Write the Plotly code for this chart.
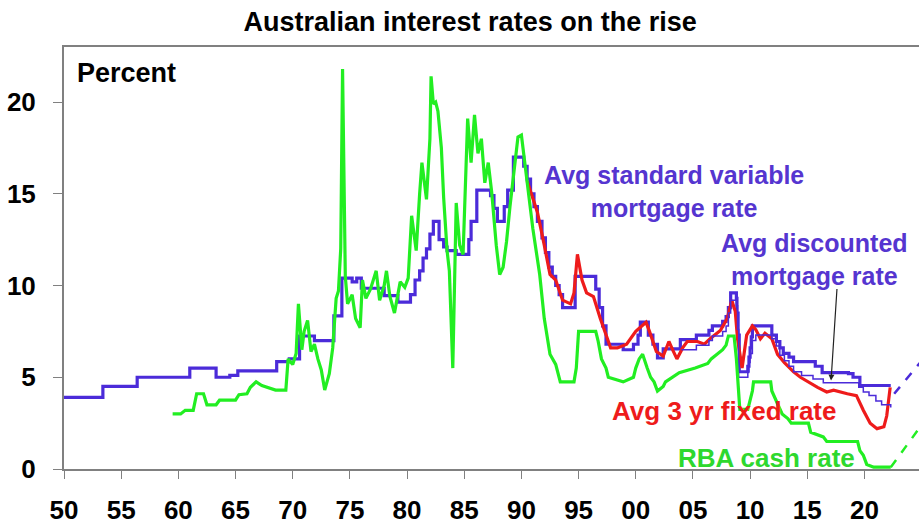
import plotly.graph_objects as go

# ---- Data (percent) ----
# Average standard variable mortgage rate (step series)
svr_years = [1950.0, 1953.4, 1956.4, 1961.0, 1963.3, 1964.5, 1965.2, 1968.6, 1969.7, 1970.6,
             1971.9, 1973.6, 1974.3, 1975.2, 1975.6, 1976.0, 1978.0, 1979.2, 1980.3, 1980.7,
             1981.1, 1981.4, 1981.7, 1982.0, 1982.3, 1982.8, 1983.2, 1983.5, 1984.3, 1985.4,
             1985.6, 1986.1, 1987.3, 1987.6, 1987.9, 1988.5, 1988.8, 1989.3, 1990.2, 1990.5,
             1990.8, 1991.1, 1991.4, 1991.8, 1992.1, 1992.4, 1992.7, 1993.0, 1993.3, 1993.6,
             1994.7, 1996.5, 1996.8, 1997.1, 1997.4, 1998.9, 1999.8, 2000.2, 2000.4, 2001.1,
             2001.5, 2001.9, 2002.4, 2003.9, 2005.3, 2006.4, 2006.7, 2007.6, 2007.9, 2008.1,
             2008.3, 2008.8, 2008.85, 2008.95, 2009.05, 2009.8, 2009.9, 2010.0, 2010.1, 2010.2,
             2011.9, 2012.3, 2012.6, 2012.9, 2013.4, 2013.8, 2015.7, 2016.3, 2018.6, 2019.0,
             2019.6, 2022.3]
svr_rate = [3.9, 4.5, 5.0, 5.5, 5.0, 5.1, 5.35, 5.85, 6.0, 7.25,
            7.0, 8.35, 10.4, 10.2, 10.4, 9.85, 9.45, 9.1, 9.5, 10.3,
            10.8, 11.5, 12.0, 12.8, 13.5, 12.5, 12.1, 11.9, 11.7, 12.5,
            13.5, 15.2, 14.9, 14.2, 13.5, 14.3, 15.2, 17.0, 16.5, 15.8,
            15.0, 14.3, 13.5, 12.6, 11.8, 11.0, 10.5, 10.0, 9.5, 8.8,
            10.5, 9.8, 8.8, 7.8, 6.8, 6.5, 6.8, 7.3, 8.0, 7.3,
            6.8, 6.05, 6.55, 7.05, 7.3, 7.55, 7.8, 8.05, 8.3, 8.8,
            9.6, 9.3, 8.5, 7.3, 5.3, 5.6, 6.1, 6.6, 7.2, 7.8,
            7.3, 6.95, 6.6, 6.3, 6.1, 5.85, 5.6, 5.25, 5.2, 5.0,
            4.55, 4.55]

# Average discounted variable mortgage rate
disc_years = [2004.0, 2005.3, 2006.4, 2006.7, 2007.6, 2007.9, 2008.1, 2008.3, 2008.8, 2008.9,
              2009.0, 2009.8, 2009.9, 2010.0, 2010.2, 2010.5, 2011.9, 2012.3, 2012.6, 2013.0,
              2013.4, 2013.8, 2014.5, 2015.5, 2016.4, 2019.5, 2019.9, 2020.4, 2021.0, 2021.5,
              2022.3]
disc_rate = [6.5, 6.75, 7.0, 7.25, 7.5, 7.8, 8.5, 9.2, 8.9, 7.6,
             5.0, 5.3, 5.8, 6.3, 7.0, 7.3, 7.1, 6.7, 6.2, 5.9,
             5.6, 5.3, 5.1, 4.9, 4.7, 4.45, 4.2, 4.0, 3.7, 3.5,
             3.35]

# Average 3 year fixed mortgage rate
fixed_years = [1990.5, 1990.9, 1991.4, 1992.0, 1992.5, 1993.0, 1993.6, 1994.3, 1994.6, 1994.9,
               1995.3, 1995.7, 1996.3, 1996.9, 1997.5, 1997.8, 1998.4, 1999.2, 2000.0, 2000.5,
               2000.9, 2001.2, 2001.8, 2002.4, 2002.9, 2003.3, 2003.6, 2004.1, 2004.5, 2005.4,
               2006.0, 2006.5, 2007.4, 2008.0, 2008.4, 2008.7, 2008.9, 2009.3, 2009.7, 2010.2,
               2010.5, 2010.9, 2011.3, 2011.9, 2012.4, 2013.0, 2013.8, 2014.4, 2015.2, 2015.9,
               2016.7, 2017.3, 2018.5, 2019.3, 2019.9, 2020.5, 2021.1, 2021.7, 2021.95, 2022.25]
fixed_rate = [15.7, 15.0, 14.0, 12.2, 10.6, 10.3, 9.2, 9.0, 9.6, 11.7,
              10.3, 9.6, 9.4, 8.2, 7.1, 6.6, 6.6, 6.8, 7.5, 7.8,
              8.0, 7.5, 6.4, 6.15, 6.95, 6.4, 6.0, 6.6, 6.95, 6.95,
              6.8, 7.1, 7.55, 8.2, 9.2, 8.6, 7.1, 5.5, 7.3, 7.8,
              7.6, 7.1, 7.4, 7.1, 6.25, 5.8, 5.3, 5.0, 4.7, 4.45,
              4.2, 4.3, 4.1, 4.0, 3.2, 2.5, 2.2, 2.3, 2.9, 4.45]

# RBA cash rate (short-term money market rate before 1990)
cash_years = [1959.5, 1960.2, 1960.6, 1961.3, 1961.6, 1962.2, 1962.5, 1963.3, 1963.6, 1965.0,
              1965.3, 1966.0, 1966.3, 1966.8, 1967.3, 1968.0, 1968.5, 1969.4, 1969.6, 1970.0,
              1970.3, 1970.5, 1970.8, 1971.0, 1971.3, 1971.6, 1971.9, 1972.2, 1972.5, 1972.8,
              1973.2, 1973.5, 1973.8, 1974.0, 1974.2, 1974.36, 1974.6, 1974.8, 1975.2, 1975.5,
              1975.9, 1976.1, 1976.4, 1976.8, 1977.3, 1977.6, 1978.0, 1978.2, 1978.5, 1978.9,
              1979.4, 1979.8, 1980.1, 1980.4, 1980.8, 1981.1, 1981.3, 1981.7, 1982.0, 1982.1,
              1982.3, 1982.5, 1982.7, 1983.0, 1983.2, 1983.5, 1983.7, 1984.0, 1984.3, 1984.6,
              1984.9, 1985.3, 1985.6, 1985.9, 1986.2, 1986.5, 1986.8, 1987.1, 1987.4, 1987.8,
              1988.1, 1988.4, 1988.7, 1989.0, 1989.3, 1989.7, 1990.0, 1990.5, 1991.0, 1991.6,
              1992.0, 1992.5, 1993.0, 1993.4, 1994.6, 1994.8, 1995.0, 1996.5, 1996.7, 1997.0,
              1997.4, 1997.6, 1998.9, 1999.8, 2000.0, 2000.3, 2000.6, 2001.0, 2001.3, 2001.6,
              2001.9, 2002.4, 2002.6, 2003.8, 2005.2, 2006.3, 2006.6, 2007.6, 2007.9, 2008.1,
              2008.6, 2008.8, 2008.9, 2009.0, 2009.1, 2009.8, 2010.0, 2010.2, 2010.3, 2011.8,
              2011.9, 2012.4, 2012.8, 2013.3, 2013.6, 2015.1, 2015.3, 2016.4, 2016.7, 2019.4,
              2019.6, 2019.9, 2020.2, 2020.8, 2022.3]
cash_rate = [3.0, 3.0, 3.2, 3.2, 4.1, 4.1, 3.5, 3.5, 3.75, 3.75,
             4.05, 4.1, 4.45, 4.75, 4.55, 4.4, 4.3, 4.3, 6.0, 5.7,
             6.3, 9.0, 6.5, 7.5, 8.1, 6.4, 6.8, 6.0, 5.4, 4.3,
             5.2, 6.6, 9.3, 9.7, 12.0, 21.8, 10.5, 9.0, 9.5, 8.2,
             7.7, 10.3, 9.3, 9.8, 10.8, 9.2, 10.0, 10.8, 9.4, 8.5,
             10.2, 9.9, 10.4, 13.8, 11.9, 15.0, 16.7, 14.7, 18.0, 21.4,
             19.9, 20.0, 19.5, 17.5, 14.8, 11.9, 10.8, 5.5, 14.5, 12.2,
             11.7, 19.1, 16.7, 19.3, 17.2, 18.0, 15.6, 16.7, 15.1, 12.2,
             10.6, 11.0, 12.4, 14.3, 16.1, 18.1, 18.2, 15.8, 13.1, 10.6,
             8.2, 6.25, 5.7, 4.75, 4.75, 5.5, 7.5, 7.5, 7.0, 6.0,
             5.5, 5.0, 4.75, 5.0, 5.5, 6.0, 6.25, 5.5, 5.0, 4.75,
             4.25, 4.5, 4.75, 5.25, 5.5, 5.75, 6.0, 6.5, 6.75, 7.25,
             7.25, 6.0, 5.25, 4.25, 3.25, 3.25, 3.75, 4.25, 4.75, 4.75,
             4.25, 3.6, 3.0, 2.75, 2.5, 2.5, 2.0, 1.75, 1.5, 1.5,
             1.0, 0.75, 0.25, 0.1, 0.1]

# Projected paths (dashed)
svr_proj_years = [2022.6, 2025.0]
svr_proj_rate = [4.1, 5.9]
cash_proj_years = [2022.3, 2025.0]
cash_proj_rate = [0.1, 2.4]

# Axis ticks
x_tick_vals = list(range(1950, 2021, 5))
x_tick_text = ["50", "55", "60", "65", "70", "75", "80", "85", "90", "95",
               "00", "05", "10", "15", "20"]
y_tick_vals = [0, 5, 10, 15, 20]

# ---- Styling ----
FONT = "Liberation Sans, Arial, sans-serif"
BLUE = "#4B2BD9"
BLUE_TEXT = "#5535D0"
RED = "#EE1B1B"
GREEN = "#22EE22"
GREEN_TEXT = "#2ED82E"
AXIS = "#808080"

fig = go.Figure()

fig.add_trace(go.Scatter(x=svr_years, y=svr_rate, mode="lines", line_shape="hv",
                         line=dict(color=BLUE, width=3.2), name="Avg standard variable mortgage rate"))
fig.add_trace(go.Scatter(x=fixed_years, y=fixed_rate, mode="lines",
                         line=dict(color=RED, width=3.2), name="Avg 3 yr fixed rate"))
fig.add_trace(go.Scatter(x=disc_years, y=disc_rate, mode="lines", line_shape="hv",
                         line=dict(color=BLUE, width=1.5), name="Avg discounted mortgage rate"))
fig.add_trace(go.Scatter(x=cash_years, y=cash_rate, mode="lines",
                         line=dict(color=GREEN, width=3.2), name="RBA cash rate"))
fig.add_trace(go.Scatter(x=svr_proj_years, y=svr_proj_rate, mode="lines",
                         line=dict(color=BLUE, width=2.5, dash="dash"), name="SVR projection"))
fig.add_trace(go.Scatter(x=cash_proj_years, y=cash_proj_rate, mode="lines",
                         line=dict(color=GREEN, width=2.5, dash="dash"), name="Cash rate projection"))

def label(text, x, y, color, size=25):
    fig.add_annotation(text=text, x=x, y=y, xref="x", yref="y",
                       showarrow=False, xanchor="center", yanchor="middle", align="center",
                       font=dict(family=FONT, size=size, color=color, weight="bold"))

label("Avg standard variable<br>mortgage rate", 2003.35, 15.1, BLUE_TEXT)
label("Avg discounted<br>mortgage rate", 2015.6, 11.42, BLUE_TEXT)
label("Avg 3 yr fixed rate", 2007.7, 3.18, RED, 26)
label("RBA cash rate", 2011.4, 0.58, GREEN_TEXT, 26)

# Pointer to the discounted rate line
fig.add_annotation(x=2017.08, y=4.82, xref="x", yref="y", text="", showarrow=True,
                   ax=6, ay=-93, arrowhead=2, arrowsize=1, arrowwidth=1.2, arrowcolor="#222222")

fig.add_annotation(text="<b>Percent</b>", x=0.013, y=0.938, xref="paper", yref="paper",
                   xanchor="left", yanchor="middle", showarrow=False,
                   font=dict(family=FONT, size=27, color="black"))

fig.update_layout(
    width=919, height=525,
    margin=dict(l=64, r=0, t=47, b=44),
    paper_bgcolor="white", plot_bgcolor="white",
    showlegend=False,
    title=dict(text="<b>Australian interest rates on the rise</b>",
               x=0.475, xref="paper", xanchor="center",
               y=1 - 22 / 525, yref="container", yanchor="middle",
               font=dict(family=FONT, size=27, color="black")),
    xaxis=dict(range=[1950, 2024.77], tickvals=x_tick_vals, ticktext=x_tick_text,
               ticks="outside", ticklen=8, tickwidth=1, tickcolor=AXIS,
               showline=True, linecolor=AXIS, linewidth=2, mirror=True,
               showgrid=False, zeroline=False, ticklabelstandoff=9,
               tickfont=dict(family=FONT, size=26, color="black", weight="bold")),
    yaxis=dict(range=[0, 23], tickvals=y_tick_vals,
               ticks="outside", ticklen=9, tickwidth=1, tickcolor=AXIS,
               showline=True, linecolor=AXIS, linewidth=2,
               showgrid=False, zeroline=False, ticklabelstandoff=12,
               tickfont=dict(family=FONT, size=26, color="black", weight="bold")),
)

fig.write_html("out.html")
